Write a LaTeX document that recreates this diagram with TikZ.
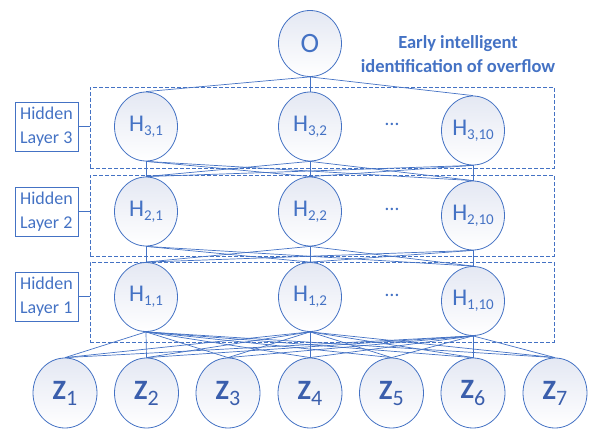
\documentclass[tikz,border=0pt]{standalone}
\usepackage{fontspec}
\setmainfont{Carlito}
\usetikzlibrary{shapes.geometric}
\definecolor{netblue}{HTML}{4472C4}
\definecolor{zblue}{HTML}{3A5EAC}
\definecolor{fillblue}{HTML}{E4E8F3}

% neuron labels: H with a two-part index, Z with one index
\newcommand\hname[1]{{\fontsize{24}{24}\selectfont H\raisebox{-4pt}{\fontsize{15}{15}\selectfont #1}}}
\newcommand\zname[1]{{\fontsize{28}{28}\selectfont\bfseries Z\raisebox{-6pt}{\fontsize{22}{22}\selectfont\mdseries #1}}}

\begin{document}
\begin{tikzpicture}[x=1pt,y=-1pt,
  neuron/.style={ellipse, draw=netblue, line width=0.8pt, top color=fillblue, bottom color=white,
    minimum width=63pt, minimum height=69pt, inner sep=0pt, text=netblue},
  inneuron/.style={neuron, text=zblue},
  layerbox/.style={draw=netblue, dash pattern=on 4pt off 2pt, line width=0.8pt,
    minimum width=464pt, minimum height=81pt, inner sep=0pt},
  tagbox/.style={draw=netblue, line width=0.8pt, minimum width=63pt, minimum height=49pt,
    inner sep=0pt, text=netblue, align=left, font=\fontsize{18}{24}\selectfont},
  dots/.style={text=netblue, font=\fontsize{20}{20}\selectfont},
  link/.style={draw=netblue, line width=0.7pt},
]
\useasboundingbox (0,0) rectangle (590,431);

% dashed frames of the hidden layers
\node[layerbox] (box3) at (322,127.5) {};
\node[layerbox] (box2) at (322,215.5) {};
\node[layerbox, minimum height=80pt] (box1) at (322,302) {};

% layer tags
\node[tagbox] (tag3) at (46.5,126.5) {Hidden\\Layer 3};
\node[tagbox] (tag2) at (46.5,211.5) {Hidden\\Layer 2};
\node[tagbox] (tag1) at (46.5,296.5) {Hidden\\Layer 1};
\foreach \l in {1,2,3} \draw[link] (tag\l.east) -- (tag\l.east -| box\l.west);

% output neuron
\node[neuron, minimum height=66pt] (out) at (310,43.5) {\fontsize{28}{28}\selectfont O};
\node[text=netblue, font=\bfseries\fontsize{18.5}{23.5}\selectfont, align=center] (title) at (458,54)
  {Early intelligent\\identification of overflow};

% hidden neurons
\foreach \r/\y in {3/126.5, 2/211.5, 1/297} {
  \node[neuron] (h\r a) at (146,\y) {\hname{\r,1}};
  \node[neuron] (h\r b) at (310,\y) {\hname{\r,2}};
  \node[neuron] (h\r c) at (473,\y+4) {\hname{\r,10}};
  \node[dots] (dots\r) at (392,\y-2) {\dots};
}

% input neurons
\foreach \i/\x in {1/65, 2/146.5, 3/228, 4/310, 5/391.5, 6/473, 7/555}
  \node[inneuron, minimum width=64pt, minimum height=70pt] (z\i) at (\x,393) {\zname{\i}};

% connections
\foreach \c in {a,b,c} \draw[link] (out.south) -- (h3\c.north);
\foreach \s in {a,b,c} \foreach \t in {a,b,c} {
  \draw[link] (h3\s.south) -- (h2\t.north);
  \draw[link] (h2\s.south) -- (h1\t.north);
}
\foreach \s in {a,b,c} \foreach \i in {1,...,7}
  \draw[link] (h1\s.south) -- (z\i.north);
\end{tikzpicture}
\end{document}
